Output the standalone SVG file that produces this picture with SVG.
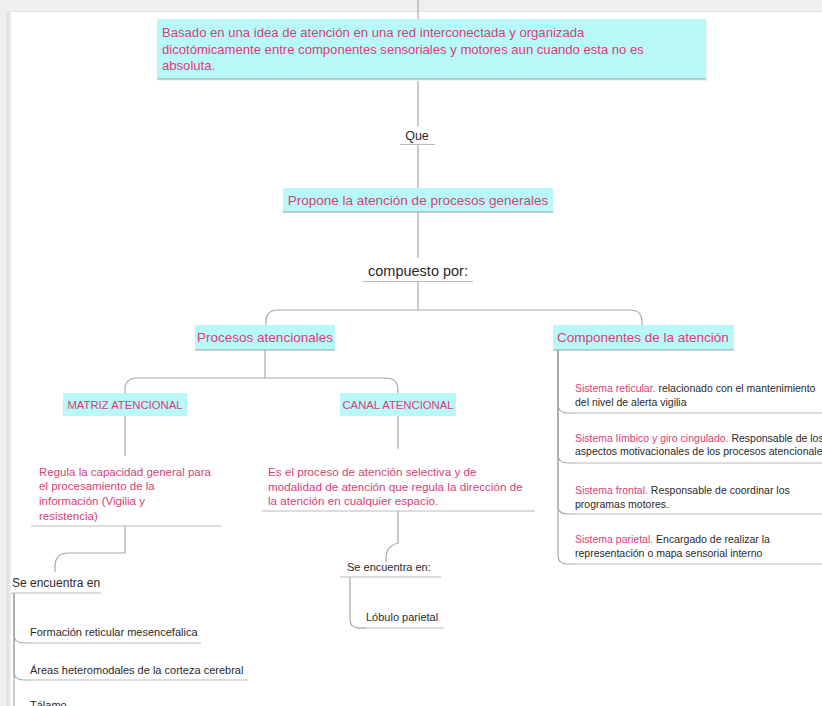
<svg xmlns="http://www.w3.org/2000/svg" width="822" height="706" viewBox="0 0 822 706">
<defs>
<style>
.frame{fill:#efefef}
.box{fill:#b9f8f8}
.ul{stroke:#b8bcbc;stroke-width:1;fill:none}
.ulc{stroke:#8fa3a3;stroke-width:1;fill:none}
.con{stroke:#a8a8a8;stroke-width:1.2;fill:none}
.pk{fill:#d93d78;font-family:"Liberation Sans",Arial,sans-serif}
.dk{fill:#2a2a2a;font-family:"Liberation Sans",Arial,sans-serif}
</style>
</defs>
<rect x="0" y="0" width="822" height="706" fill="#ffffff"/>
<rect class="frame" x="0" y="0" width="822" height="12"/>
<rect class="frame" x="0" y="0" width="11" height="706"/>
<line x1="8" y1="12" x2="8" y2="706" stroke="#e2e2e2" stroke-width="3"/>
<line x1="11" y1="11.5" x2="822" y2="11.5" stroke="#e4e4e4" stroke-width="1"/>

<g id="connectors">
<path class="con" d="M418,0 V19"/>
<path class="con" d="M418,79 V126"/>
<path class="con" d="M418,144 V188"/>
<path class="con" d="M418,212 V258"/>
<path class="con" d="M418,281 V310"/>
<path class="con" d="M418,310 H278 Q266,310 266,322 V325"/>
<path class="con" d="M418,310 H630 Q642,310 642,322 V325"/>
<path class="con" d="M265,350 V378"/>
<path class="con" d="M265,378 H137 Q125,378 125,390 V393"/>
<path class="con" d="M265,378 H386 Q398,378 398,390 V393"/>
<path class="con" d="M125,416 V456"/>
<path class="con" d="M398,416 V449"/>
<path class="con" d="M125,526 V553 H68 Q56,553 55,565 V572"/>
<path class="con" d="M398,511 V543 Q386,546 386,558 V562"/>
<path class="con" d="M558,350 V405 Q558,413 568,413 H575"/>
<path class="con" d="M558,350 V455 Q558,463 568,463 H575"/>
<path class="con" d="M558,350 V506 Q558,514 568,514 H575"/>
<path class="con" d="M558,350 V556 Q558,564 568,564 H575"/>
<path class="con" d="M14,593 V635 Q14,643 24,643 H30"/>
<path class="con" d="M14,593 V672 Q14,680 24,680 H30"/>
<path class="con" d="M14,593 V706"/>
<path class="con" d="M350,577 V620 Q350,628 360,628 H366"/>
</g>

<g id="n-top">
<rect x="157" y="19" width="549" height="60" fill="#f2f2f2" transform="translate(2,2)"/>
<rect class="box" x="157" y="19" width="549" height="60"/>
<line class="ulc" x1="157" y1="79" x2="706" y2="79"/>
<text class="pk" font-size="13.1" x="162" y="37">Basado en una idea de atención en una red interconectada y organizada</text>
<text class="pk" font-size="13.1" x="162" y="54">dicotómicamente entre componentes sensoriales y motores aun cuando esta no es</text>
<text class="pk" font-size="13.1" x="162" y="70">absoluta.</text>
</g>

<g id="n-que">
<text class="dk" font-size="12.5" x="417" y="140" text-anchor="middle">Que</text>
<line class="ul" x1="400" y1="144.5" x2="435" y2="144.5"/>
</g>

<g id="n-propone">
<rect class="box" x="283" y="188" width="270" height="24"/>
<line class="ulc" x1="283" y1="212" x2="553" y2="212"/>
<text class="pk" font-size="13.5" x="418" y="205" text-anchor="middle">Propone la atención de procesos generales</text>
</g>

<g id="n-compuesto">
<text class="dk" font-size="14.5" x="418" y="276" text-anchor="middle">compuesto por:</text>
<line class="ul" x1="362" y1="281.5" x2="473" y2="281.5"/>
</g>

<g id="n-procesos">
<rect class="box" x="195" y="325" width="140" height="25"/>
<line class="ulc" x1="195" y1="350" x2="335" y2="350"/>
<text class="pk" font-size="13.5" x="265" y="342" text-anchor="middle">Procesos atencionales</text>
</g>

<g id="n-componentes">
<rect class="box" x="553" y="325" width="181" height="25"/>
<line class="ulc" x1="553" y1="350" x2="734" y2="350"/>
<text class="pk" font-size="13.5" x="557" y="342">Componentes de la atención</text>
</g>

<g id="n-matriz">
<rect class="box" x="63" y="393" width="124" height="23"/>
<text class="pk" font-size="11.3" x="125" y="409" text-anchor="middle">MATRIZ ATENCIONAL</text>
</g>

<g id="n-canal">
<rect class="box" x="340" y="393" width="116" height="23"/>
<text class="pk" font-size="11.3" x="398" y="409" text-anchor="middle">CANAL ATENCIONAL</text>
</g>

<g id="n-regula">
<line class="ul" x1="31" y1="526" x2="221" y2="526"/>
<text class="pk" font-size="11.5" x="39" y="476">Regula la capacidad general para</text>
<text class="pk" font-size="11.5" x="39" y="490">el procesamiento de la</text>
<text class="pk" font-size="11.5" x="39" y="505">información (Vigilia y</text>
<text class="pk" font-size="11.5" x="39" y="520">resistencia)</text>
</g>

<g id="n-es">
<line class="ul" x1="262" y1="511" x2="535" y2="511"/>
<text class="pk" font-size="11.7" x="268" y="476">Es el proceso de atención selectiva y de</text>
<text class="pk" font-size="11.7" x="268" y="491">modalidad de atención que regula la dirección de</text>
<text class="pk" font-size="11.7" x="268" y="505">la atención en cualquier espacio.</text>
</g>

<g id="n-se1">
<text class="dk" font-size="12" x="12" y="587">Se encuentra en</text>
<line class="ul" x1="11" y1="593" x2="101" y2="593"/>
</g>

<g id="n-formacion">
<text class="dk" font-size="11" x="30" y="636">Formación reticular mesencefalica</text>
<line class="ul" x1="30" y1="643" x2="201" y2="643"/>
</g>

<g id="n-areas">
<text class="dk" font-size="11" x="30" y="674">Áreas heteromodales de la corteza cerebral</text>
<line class="ul" x1="30" y1="680" x2="248" y2="680"/>
</g>

<g id="n-talamo">
<text class="dk" font-size="11" x="30" y="709">Tálamo</text>
</g>

<g id="n-se2">
<text class="dk" font-size="11" x="347" y="571">Se encuentra en:</text>
<line class="ul" x1="340" y1="577" x2="441" y2="577"/>
</g>

<g id="n-lobulo">
<text class="dk" font-size="11" x="366" y="621">Lóbulo parietal</text>
<line class="ul" x1="357" y1="628" x2="444" y2="628"/>
</g>

<g id="n-s1">
<text font-size="10.5" x="575" y="392"><tspan class="pk">Sistema reticular.</tspan><tspan class="dk"> relacionado con el mantenimiento</tspan></text>
<text class="dk" font-size="10.5" x="575" y="406">del nivel de alerta vigilia</text>
<line class="ul" x1="575" y1="413" x2="822" y2="413"/>
</g>

<g id="n-s2">
<text font-size="10.5" x="575" y="442"><tspan class="pk">Sistema límbico y giro cingulado.</tspan><tspan class="dk"> Responsable de los</tspan></text>
<text class="dk" font-size="10.5" x="575" y="455">aspectos motivacionales de los procesos atencionales</text>
<line class="ul" x1="575" y1="463" x2="822" y2="463"/>
</g>

<g id="n-s3">
<text font-size="10.5" x="575" y="494"><tspan class="pk">Sistema frontal.</tspan><tspan class="dk"> Responsable de coordinar los</tspan></text>
<text class="dk" font-size="10.5" x="575" y="508">programas motores.</text>
<line class="ul" x1="575" y1="514" x2="822" y2="514"/>
</g>

<g id="n-s4">
<text font-size="10.5" x="575" y="543"><tspan class="pk">Sistema parietal.</tspan><tspan class="dk"> Encargado de realizar la</tspan></text>
<text class="dk" font-size="10.5" x="575" y="557">representación o mapa sensorial interno</text>
<line class="ul" x1="575" y1="564" x2="822" y2="564"/>
</g>
</svg>
